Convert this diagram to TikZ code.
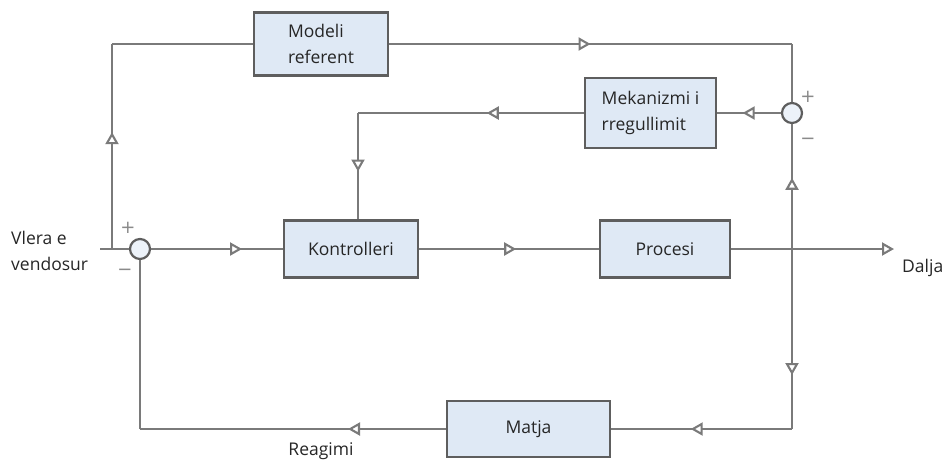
\documentclass[tikz,border=0pt]{standalone}
\usepackage{fontspec}
\setmainfont{Open Sans}
\newfontfamily\signfont{DejaVu Sans}
\usetikzlibrary{arrows.meta,decorations.markings}
\definecolor{linec}{HTML}{7A7A7A}
\definecolor{boxline}{HTML}{5E5E5E}
\definecolor{boxfill}{HTML}{DFE9F5}
\definecolor{txt}{HTML}{262626}
\definecolor{signc}{HTML}{8A8A8A}
\tikzset{
  blk/.style={draw=boxline, fill=boxfill, line width=2.2pt, inner sep=0pt, text=txt,
    font=\fontsize{17.5}{26}\selectfont, align=left},
  sumnode/.style={circle, draw=boxline, line width=2.2pt, fill=boxfill!60!white, minimum size=20pt, inner sep=0pt},
  conn/.style={draw=linec, line width=2.1pt},
  midarrow/.style={postaction={decorate,decoration={markings,
      mark=at position #1 with {\arrow{Triangle[fill=white,length=12pt,width=13pt]}}}}},
  lbl/.style={text=txt, font=\fontsize{17.5}{26}\selectfont, align=left, inner sep=0pt},
  sign/.style={text=signc, font=\signfont\fontsize{18}{18}\selectfont, inner sep=0pt}
}
\begin{document}
\begin{tikzpicture}[x=1pt,y=-1pt]
\useasboundingbox (0,0) rectangle (947,459);
% blocks
\node[blk, minimum width=134pt, minimum height=63pt] (model) at (321,44) {Modeli\\referent};
\node[blk, minimum width=131pt, minimum height=70pt] (mek) at (650.5,113) {Mekanizmi i\\rregullimit};
\node[blk, minimum width=134pt, minimum height=57pt] (kontr) at (351,249) {Kontrolleri};
\node[blk, minimum width=130pt, minimum height=57pt] (proc) at (665,249) {Procesi};
\node[blk, minimum width=163pt, minimum height=56pt] (matja) at (528.5,429) {Matja};
% summing junctions
\node[sumnode] (s1) at (140,249) {};
\node[sumnode] (s2) at (792,113) {};
% coordinates
\coordinate (in) at (100,249);
\coordinate (j1) at (112,249);
\coordinate (tl) at (112,44);
\coordinate (tr) at (792,44);
\coordinate (j2) at (792,249);
\coordinate (out) at (894,249);
\coordinate (mk) at (358,113);
\coordinate (br) at (792,429);
\coordinate (bl) at (140,429);
% connectors
\draw[conn] (in) -- (s1.west);
\draw[conn, midarrow=0.57] (j1) -- (tl);
\draw[conn] (tl) -- (model.west);
\draw[conn, midarrow=0.5] (model.east) -- (tr);
\draw[conn] (tr) -- (s2.north);
\draw[conn, midarrow=0.69] (s1.east) -- (kontr.west);
\draw[conn, midarrow=0.54] (kontr.east) -- (proc.west);
\draw[conn, -{Triangle[fill=white,length=12pt,width=13pt]}] (proc.east) -- (out);
\draw[conn, midarrow=0.57] (j2) -- (s2.south);
\draw[conn, midarrow=0.6] (s2.west) -- (mek.east);
\draw[conn, midarrow=0.43] (mek.west) -- (mk);
\draw[conn, midarrow=0.55] (mk) -- (mk |- kontr.north);
\draw[conn, midarrow=0.7] (j2) -- (br);
\draw[conn, midarrow=0.56] (br) -- (matja.east);
\draw[conn, midarrow=0.32] (matja.west) -- (bl);
\draw[conn] (bl) -- (s1.south);
% signs
\node[sign] (p1) at (128,228) {+};
\node[sign] (m1) at (125,272) {−};
\node[sign] (p2) at (808,97) {+};
\node[sign] (m2) at (808,141) {−};
% labels
\node[lbl, anchor=west] (vlera) at (11,251) {Vlera e\\vendosur};
\node[lbl, anchor=west] (dalja) at (902,268) {Dalja};
\node[lbl] (reag) at (321,451) {Reagimi};
\end{tikzpicture}
\end{document}
